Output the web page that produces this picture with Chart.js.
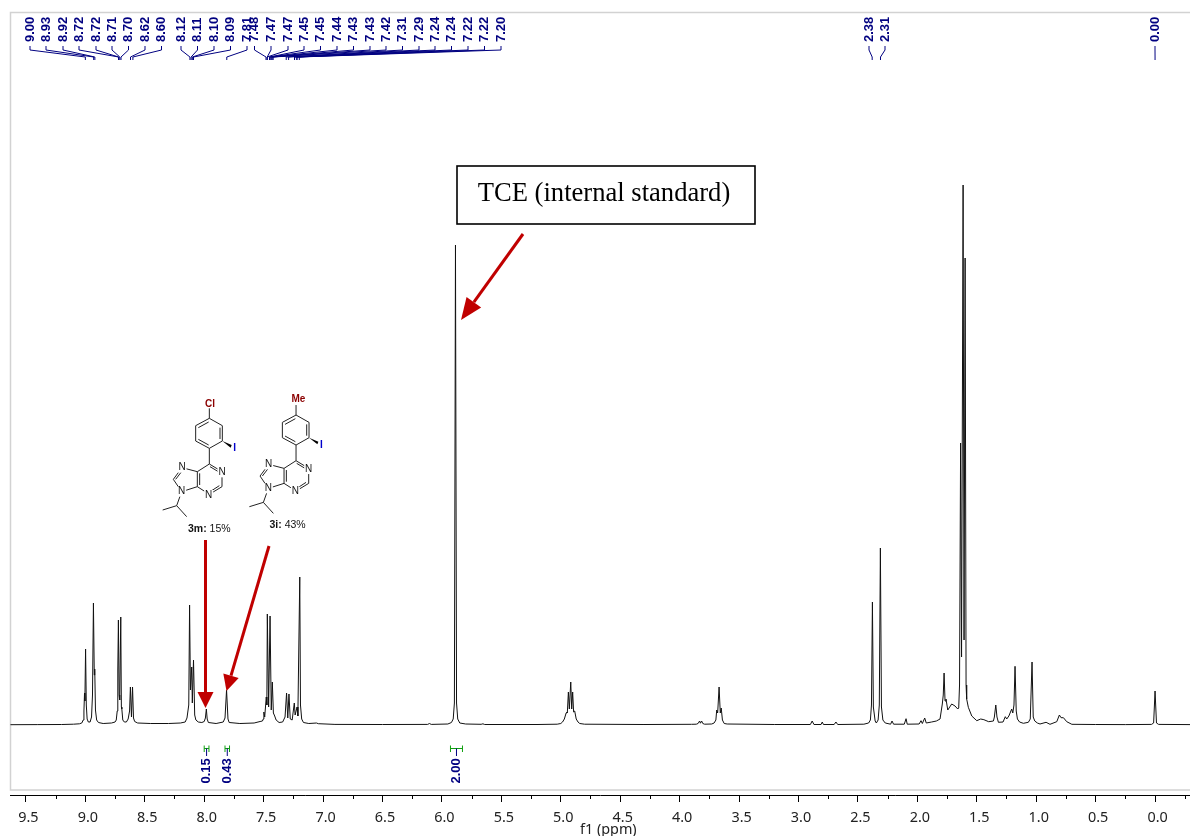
<!DOCTYPE html>
<html lang="en">
<head>
    <meta charset="UTF-8">
    <title>1H NMR spectrum</title>
    <style>
        html, body { margin: 0; padding: 0; background: #fff; overflow: hidden; }
        #box { width: 1190px; height: 836px; }
    </style>
</head>
<body>
    <div id="box"><canvas id="spectrum"></canvas></div>

    <script src="https://cdn.jsdelivr.net/npm/chart.js"></script>

    <script>
    // spectrum: ppm and height above the baseline
    const spectrumPpm = [
        9.63,9.40,9.20,9.10,9.05,9.03,9.018,9.012,9.007,9.004,8.998,8.992,8.985,8.975,8.96,8.948,8.94,8.932,8.925,8.921,8.915,8.905,8.89,
        8.85,8.78,8.75,8.74,8.732,8.727,8.722,8.716,8.711,8.702,8.697,8.693,8.685,8.672,8.655,8.64,8.628,8.621,8.612,8.603,8.595,8.585,8.56,
        8.45,8.30,8.20,8.16,8.145,8.13,8.123,8.116,8.105,8.10,8.09,8.08,8.07,8.05,8.02,8.0,7.99,7.982,7.975,7.965,7.90,7.84,7.825,7.812,7.80,7.79,
        7.70,7.58,7.53,7.51,7.503,7.498,7.491,7.478,7.473,7.469,7.458,7.446,7.436,7.427,7.418,7.407,7.395,7.37,7.34,7.32,7.307,7.297,7.287,7.276,7.26,7.242,7.235,7.219,7.212,7.196,7.19,7.18,7.165,7.12,7.055,7.04,
        6.9,6.5,6.12,6.105,6.09,5.95,5.92,5.905,5.895,5.886,5.877,5.867,5.85,5.80,5.67,5.655,5.64,5.2,5.03,5.0,
        4.985,4.97,4.955,4.95,4.945,4.936,4.928,4.916,4.908,4.90,4.892,4.883,4.87,4.855,4.84,4.8,4.3,3.9,3.86,3.845,3.832,3.825,3.815,3.805,3.79,3.73,3.71,3.695,3.688,3.68,3.668,3.658,3.65,3.64,3.625,3.6,3.2,
        2.9,2.885,2.87,2.81,2.80,2.79,2.70,2.685,2.67,2.45,2.41,2.395,2.386,2.378,2.37,2.355,2.345,2.33,2.32,2.311,2.302,2.29,2.27,2.225,2.213,2.20,2.11,2.095,2.085,1.985,1.969,1.958,1.938,1.925,
        1.88,1.84,1.809,1.79,1.782,1.775,1.767,1.759,1.744,1.711,1.683,1.66,1.652,1.645,1.636,1.628,1.615,1.607,1.598,1.59,1.585,1.571,1.542,1.50,1.467,1.44,1.40,1.36,1.352,1.34,1.33,1.318,1.279,1.26,1.248,1.23,1.206,1.197,1.187,1.178,1.168,1.158,1.14,1.108,1.066,1.05,1.035,1.025,1.012,.99,.968,.917,.884,.827,.805,.791,.771,.743,.70,.50,.25,.03,.012,0,-.012,-.03,-.294
    ];
    const spectrumHeight = [
        .3,.4,.5,.8,1.2,2,5,14,32,24,76,20,6,3,3,8,30,122,50,56,15,5,2.5,
        1.5,2,3,5,14,55,105,30,25,108,18,16,5,3,3,6,14,38,8,38,7,3.5,2,
        1.5,1.5,2,3,7,20,120,35,58,22,65,10,5,3,2.5,3.5,7,16,6,2.5,1.5,3,7,35,6,2.5,
        1.5,2,3.5,4,6,13,8,28,20,111,18,109,15,43,12,9,5,2.5,3,8,32,7,31,6,5,22,10,18,9,148,20,6,2.5,1.5,2,1.3,
        .6,.5,.6,1.5,.6,1,2.5,6,22,480,22,6,2,1,.7,1.2,.5,.5,.8,1.5,
        3,6,12,13,12,33,16,43,16,33,13,14,6,3,1.5,.8,.5,.7,.8,1.5,4,1.8,4,1.5,.8,1,2,5,15,12,38,12,17,5,1.5,1,.5,
        .5,4,.5,.5,3,.5,.5,3,.5,.8,2,5,20,123,18,4,2,5,20,177,18,5,2,.8,4,.8,.8,6.3,.8,1,4.3,1.5,7,2,
        3,4,6,21,30,52,24,26,15,21,19,16,17,40,282,68,540,85,467,40,26,17.7,9,4.3,6,5.3,3.3,4,8,20,8,2.7,3,8.3,6,9,16,12,20,58.7,14,6,3,1.7,2.7,6,63,8,4,2,1,2.7,.7,3.3,10,7.3,7.3,3.3,.7,.5,.4,.6,2,34,2,.6,.4
    ];

    const xTickValues = [9.5,9,8.5,8,7.5,7,6.5,6,5.5,5,4.5,4,3.5,3,2.5,2,1.5,1,0.5,0];
    const xMinorTicks = [9.25,8.75,8.25,7.75,7.25,6.75,6.25,5.75,5.25,4.75,4.25,3.75,3.25,2.75,2.25,1.75,1.25,0.75,0.25,-0.25];

    // peak picking, top of the plot
    const peakLabels = ["9.00","8.93","8.92","8.72","8.72","8.71","8.70","8.62","8.60","8.12","8.11","8.10","8.09","7.81","7.48","7.47","7.47","7.45","7.45","7.44","7.43","7.43","7.42","7.31","7.29","7.24","7.24","7.22","7.22","7.20","2.38","2.31","0.00"];
    const peakLabelX = [30,46,63,79,96,112,128.5,145,161.5,181,197.5,214,230.5,247,254.5,271,288,304,320.5,337,353.5,370,386,402.5,419,435,451.5,468,484.5,501,869,885,1155];

    // integrals, bottom of the plot
    const integralLabels = ["0.15","0.43","2.00"];
    const integralFrom = [8.00,7.825,5.928];
    const integralTo = [7.96,7.787,5.827];

    const NAVY = "#000080";
    const RED = "#c00000";

    function rotatedText(ctx, text, x, y, font, color) {
        ctx.save();
        ctx.translate(x, y);
        ctx.rotate(-Math.PI / 2);
        ctx.font = font;
        ctx.fillStyle = color;
        ctx.textAlign = "left";
        ctx.textBaseline = "middle";
        ctx.fillText(text, 0, 0);
        ctx.restore();
    }

    function drawArrow(ctx, x1, y1, tipX, tipY, headLen, headWidth) {
        const a = Math.atan2(tipY - y1, tipX - x1);
        const bx = tipX - headLen * Math.cos(a);
        const by = tipY - headLen * Math.sin(a);
        ctx.strokeStyle = RED;
        ctx.fillStyle = RED;
        ctx.lineWidth = 3;
        ctx.beginPath();
        ctx.moveTo(x1, y1);
        ctx.lineTo(bx, by);
        ctx.stroke();
        ctx.beginPath();
        ctx.moveTo(tipX, tipY);
        ctx.lineTo(bx - headWidth / 2 * Math.sin(a), by + headWidth / 2 * Math.cos(a));
        ctx.lineTo(bx + headWidth / 2 * Math.sin(a), by - headWidth / 2 * Math.cos(a));
        ctx.closePath();
        ctx.fill();
    }

    // purine skeleton, drawn in thirds of a pixel from the corner ox, oy
    const skeletonBonds = [
        [178,100,217,122],[217,122,217,168],[217,168,178,190],[178,190,137,168],[137,168,137,122],[137,122,178,100],
        [145,128,176,111],[210,128,210,162],[145,163,176,180],
        [178,190,178,237],
        [178,237,216,260],[216,260,216,305],[216,305,178,328],[178,328,142,305],[142,305,142,260],[142,260,178,237],
        [149,265,149,300],[180,245,205,260],[208,302,185,317],
        [142,260,96,248],[96,248,70,283],[70,283,95,320],[95,320,142,305],[77,283,97,257],
        [95,320,80,362],[80,362,38,375],[80,362,110,395]
    ];
    const skeletonN = [[216,262],[176,330],[96,248],[95,320]];

    function drawMolecule(ctx, ox, oy, topLabel, topX, topY, name, yieldText, nameX, nameY) {
        const px = v => ox + v / 3;
        const py = v => oy + v / 3;
        ctx.strokeStyle = "#222";
        ctx.lineWidth = 1;
        ctx.beginPath();
        skeletonBonds.forEach(b => {
            ctx.moveTo(px(b[0]), py(b[1]));
            ctx.lineTo(px(b[2]), py(b[3]));
        });
        ctx.moveTo(px(178), py(100));
        ctx.lineTo(px(178), py(70));
        ctx.stroke();

        // wedge to the iodine
        ctx.fillStyle = "#000";
        ctx.beginPath();
        ctx.moveTo(px(217), py(168));
        ctx.lineTo(px(245), py(180));
        ctx.lineTo(px(242), py(188));
        ctx.closePath();
        ctx.fill();

        ctx.textAlign = "center";
        ctx.textBaseline = "middle";
        ctx.font = "10px 'Liberation Sans'";
        skeletonN.forEach(n => {
            ctx.fillStyle = "#fff";
            ctx.fillRect(px(n[0]) - 4.5, py(n[1]) - 5, 9, 10);
            ctx.fillStyle = "#111";
            ctx.fillText("N", px(n[0]), py(n[1]));
        });
        ctx.font = "bold 10px 'Liberation Sans'";
        ctx.fillStyle = "#0000cc";
        ctx.fillText("I", px(254), py(190));
        ctx.fillStyle = "#8b0000";
        ctx.fillText(topLabel, px(topX), py(topY));

        // name + yield
        ctx.textAlign = "left";
        ctx.fillStyle = "#111";
        ctx.font = "bold 10.5px 'Liberation Sans'";
        const w = ctx.measureText(name).width;
        ctx.fillText(name, nameX, nameY);
        ctx.font = "10.5px 'Liberation Sans'";
        ctx.fillText(yieldText, nameX + w, nameY);
    }

    const annotations = {
        id: "annotations",
        beforeDatasetsDraw(chart) {
            const ctx = chart.ctx;
            ctx.save();
            ctx.strokeStyle = "#d2d2d2";
            ctx.lineWidth = 1.5;
            ctx.beginPath();
            ctx.moveTo(1190, 12.5);
            ctx.lineTo(10.5, 12.5);
            ctx.lineTo(10.5, 790);
            ctx.lineTo(1190, 790);
            ctx.stroke();
            ctx.restore();
        },
        afterDatasetsDraw(chart) {
            const ctx = chart.ctx;
            const xs = chart.scales.x;
            ctx.save();

            // minor ticks
            ctx.strokeStyle = "#000";
            ctx.lineWidth = 1;
            ctx.beginPath();
            xMinorTicks.forEach(v => {
                const x = Math.round(xs.getPixelForValue(v)) + 0.5;
                ctx.moveTo(x, 795);
                ctx.lineTo(x, 799);
            });
            ctx.stroke();

            // axis title, cut by the bottom edge like the original
            ctx.fillStyle = "#222";
            ctx.font = "14.4px 'Noto Sans'";
            ctx.textAlign = "center";
            ctx.textBaseline = "middle";
            ctx.fillText("f1 (ppm)", xs.getPixelForValue(4.6), 830);

            // peak labels and their leaders
            ctx.strokeStyle = NAVY;
            ctx.lineWidth = 1;
            peakLabels.forEach((label, i) => {
                const lx = peakLabelX[i];
                const px = xs.getPixelForValue(parseFloat(label));
                rotatedText(ctx, label, lx, 42, "bold 13px 'Liberation Sans'", NAVY);
                ctx.beginPath();
                ctx.moveTo(lx, 46);
                ctx.lineTo(lx, 50);
                ctx.lineTo(px, 57);
                ctx.lineTo(px, 60);
                ctx.stroke();
            });

            // integrals
            integralLabels.forEach((label, i) => {
                const a = xs.getPixelForValue(integralFrom[i]);
                const b = xs.getPixelForValue(integralTo[i]);
                const mid = (a + b) / 2;
                ctx.strokeStyle = "#10a010";
                ctx.lineWidth = 1;
                ctx.beginPath();
                ctx.moveTo(a, 745.5);
                ctx.lineTo(a, 752);
                ctx.moveTo(b, 745.5);
                ctx.lineTo(b, 752);
                ctx.moveTo(a, 748.5);
                ctx.lineTo(b, 748.5);
                ctx.stroke();
                ctx.strokeStyle = NAVY;
                ctx.beginPath();
                ctx.moveTo(mid, 748.5);
                ctx.lineTo(mid, 756);
                ctx.stroke();
                rotatedText(ctx, label, mid, 783.5, "bold 13px 'Liberation Sans'", NAVY);
            });

            // TCE box
            ctx.fillStyle = "#fff";
            ctx.fillRect(457, 166, 298, 58);
            ctx.strokeStyle = "#000";
            ctx.lineWidth = 1.6;
            ctx.strokeRect(457, 166, 298, 58);
            ctx.fillStyle = "#000";
            ctx.font = "26.6px 'Liberation Serif'";
            ctx.textAlign = "center";
            ctx.textBaseline = "middle";
            ctx.fillText("TCE (internal standard)", 604, 194.5);

            // arrows
            drawArrow(ctx, 523, 234, 461, 320, 22, 18);
            drawArrow(ctx, 205.5, 540, 205.5, 708, 16, 16);
            drawArrow(ctx, 269, 546, 226.5, 691, 16, 16);

            // the two products
            drawMolecule(ctx, 150, 385, "Cl", 180, 57, "3m:", " 15%", 188, 529);
            drawMolecule(ctx, 236.7, 381.7, "Me", 185, 52, "3i:", " 43%", 269.5, 525);

            ctx.restore();
        }
    };

    const ctx = document.getElementById("spectrum");

    new Chart(ctx, {
        type: "line",
        data: {
            datasets: [{
                data: spectrumPpm.map((v, i) => ({ x: v, y: spectrumHeight[i] })),
                borderColor: "#111",
                borderWidth: 1,
                pointRadius: 0,
                tension: 0,
                fill: false
            }]
        },
        options: {
            responsive: true,
            maintainAspectRatio: false,
            animation: false,
            layout: { padding: { left: 10, top: 12, right: 0, bottom: 0 } },
            plugins: {
                legend: { display: false },
                tooltip: { enabled: false }
            },
            scales: {
                x: {
                    type: "linear",
                    reverse: true,
                    min: -0.294,
                    max: 9.634,
                    afterBuildTicks: scale => { scale.ticks = xTickValues.map(v => ({ value: v })); },
                    afterFit: scale => { scale.height = 41; },
                    border: { color: "#000", width: 1 },
                    grid: { drawOnChartArea: false, drawTicks: true, tickLength: 7, tickColor: "#000" },
                    ticks: {
                        autoSkip: false,
                        maxRotation: 0,
                        padding: 7,
                        labelOffset: 2.5,
                        color: "#222",
                        font: { family: "Noto Sans", size: 14.4 },
                        callback: v => v.toFixed(1)
                    }
                },
                y: {
                    display: false,
                    min: -70,
                    max: 713
                }
            }
        },
        plugins: [annotations]
    });
    </script>
</body>
</html>
